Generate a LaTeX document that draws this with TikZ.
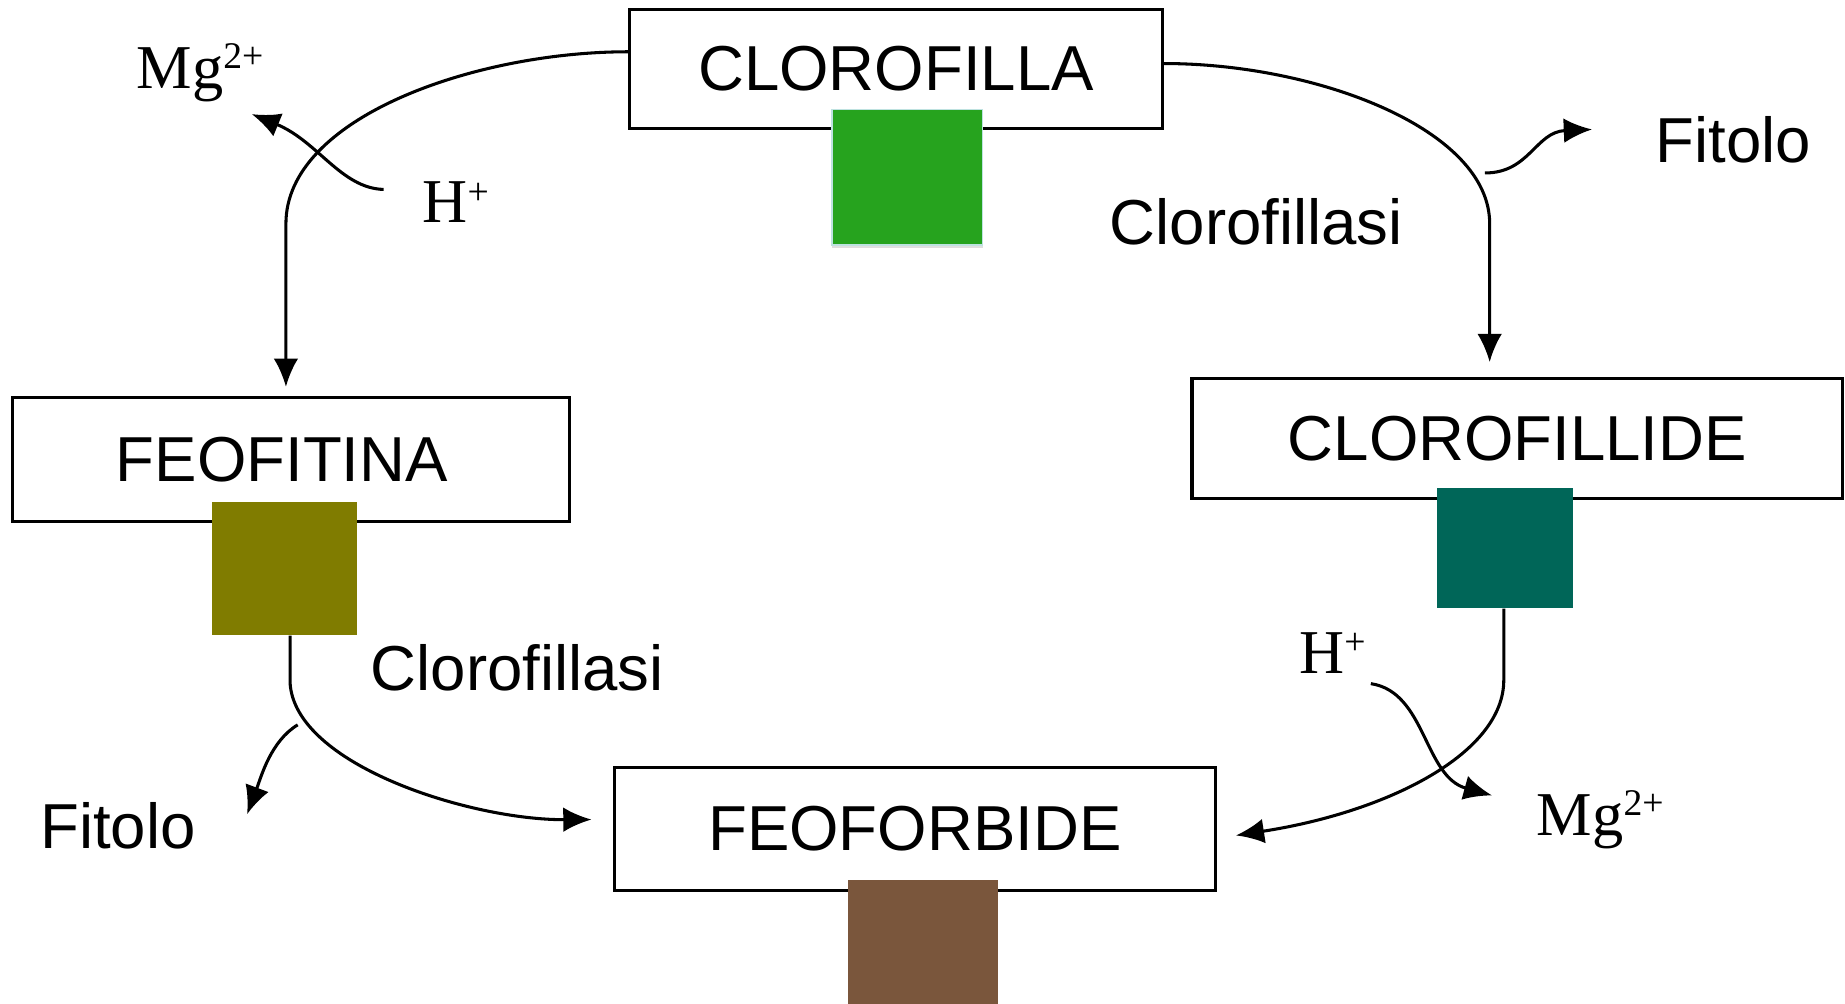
\documentclass[tikz,border=0pt]{standalone}
\usepackage{fontspec}
\setmainfont{Liberation Sans}
\newfontfamily\serifion{Liberation Serif}
\usetikzlibrary{arrows.meta,calc,shadows}
\definecolor{gcol}{RGB}{38,163,30}
\definecolor{gedge}{RGB}{190,226,224}
\definecolor{ocol}{RGB}{128,124,0}
\definecolor{tcol}{RGB}{0,102,88}
\definecolor{bcol}{RGB}{122,86,60}
\tikzset{
  box/.style={draw=black, line width=2.6pt, fill=white, inner sep=0pt, font=\fontsize{54}{60}\selectfont},
  swatch/.style={inner sep=0pt, draw=none},
  lab/.style={inner sep=0pt, anchor=base west, font=\fontsize{54}{60}\selectfont},
  ion/.style={inner sep=0pt, anchor=base west, font=\serifion\fontsize{53}{60}\selectfont},
  conn/.style={line width=2.6pt, -{Latex[length=24pt,width=21pt]}},
}
\begin{document}
\begin{tikzpicture}[x=1pt,y=-1pt]
\useasboundingbox (0,0) rectangle (1568,853);
% boxes
\node[box, minimum width=453pt, minimum height=101pt] (cl) at (761.5,58.5) {CLOROFILLA};
\node[box, minimum width=473pt, minimum height=105pt] (fe) at (247.5,390.5) {\hspace*{-16pt}FEOFITINA};
\node[box, minimum width=553pt, minimum height=102pt] (clide) at (1289.5,373) {CLOROFILLIDE};
\node[box, minimum width=511pt, minimum height=105pt] (fo) at (777.5,704.5) {FEOFORBIDE};
% colour swatches
\node[swatch, fill=gcol, draw=gedge, line width=1.4pt, drop shadow={shadow xshift=0pt, shadow yshift=-3pt, opacity=0.25}, minimum width=128pt, minimum height=115pt] (gsq) at (771,150.5) {};
\node[swatch, fill=ocol, minimum width=123pt, minimum height=113pt] (osq) at (241.5,483.5) {};
\node[swatch, fill=tcol, minimum width=116pt, minimum height=102pt] (tsq) at (1279,466) {};
\node[swatch, fill=bcol, minimum width=127pt, minimum height=105pt] (bsq) at (784.5,800.5) {};
% labels
\node[lab] (enzR) at (943,208) {Clorofillasi};
\node[lab] (fitR) at (1407,138.5) {Fitolo};
\node[lab] (enzL) at (315,587) {Clorofillasi};
\node[lab] (fitL) at (34,721) {Fitolo};
\node[ion] (mgL) at (116,75) {Mg\raisebox{17pt}{\fontsize{32}{32}\selectfont 2+}};
\node[ion] (hL) at (359,189.5) {H\raisebox{16pt}{\fontsize{32}{32}\selectfont +}};
\node[ion] (hR) at (1104,572) {H\raisebox{16pt}{\fontsize{32}{32}\selectfont +}};
\node[ion] (mgR) at (1306,710) {Mg\raisebox{17pt}{\fontsize{32}{32}\selectfont 2+}};
% free ends of side arrows
\coordinate (hLs) at (326,161);
\coordinate (mgLt) at (214,97);
\coordinate (fitRs) at (1262,147);
\coordinate (fitRt) at (1353,110);
\coordinate (fitLs) at (253,616);
\coordinate (fitLt) at (210,692);
\coordinate (hRs) at (1165,581);
\coordinate (mgRt) at (1268,676);
% main connectors
\draw[conn] ([yshift=14.5pt]cl.west) .. controls +(-130,0) and +(0,-90) .. (243,190) -- ([xshift=-4.5pt,yshift=8pt]fe.north);
\draw[conn] ([yshift=4.5pt]cl.east) .. controls +(130,0) and +(0,-80) .. (1266,190) -- ([xshift=-23.5pt,yshift=13pt]clide.north);
\draw[conn] ([xshift=5pt]osq.south) -- (246.5,580) .. controls (250,650) and (400,697) .. ([xshift=-18pt,yshift=8pt]fo.west);
\draw[conn] ([xshift=-1pt]tsq.south) -- (1278,578) .. controls (1278,640) and (1180,690) .. ([xshift=16pt,yshift=-5.5pt]fo.east);
% side arrows
\draw[conn] (hLs) .. controls (290,160) and (270,120) .. (mgLt);
\draw[conn] (fitRs) .. controls (1300,147) and (1305,112) .. (fitRt);
\draw[conn] (fitLs) .. controls (230,630) and (222,660) .. (fitLt);
\draw[conn] (hRs) .. controls (1212,588) and (1210,660) .. (mgRt);
\end{tikzpicture}
\end{document}
